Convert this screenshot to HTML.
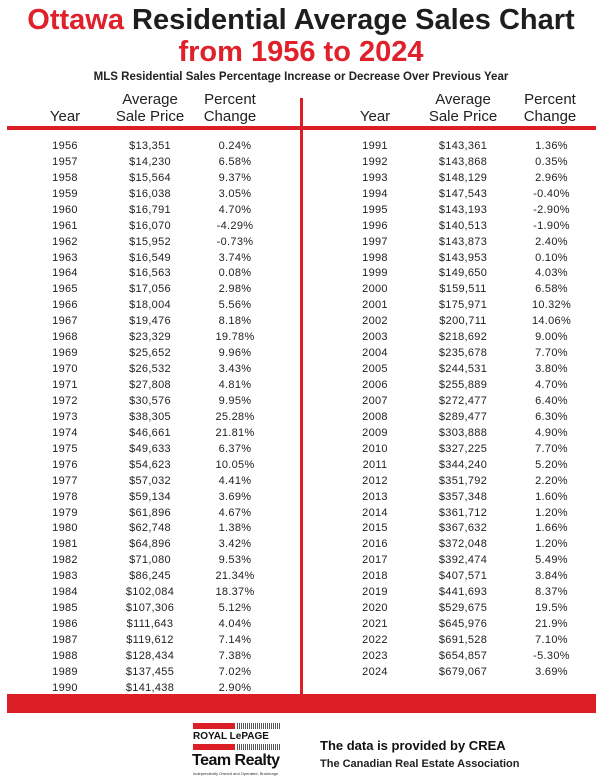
<!DOCTYPE html>
<html><head><meta charset="utf-8"><style>
*{margin:0;padding:0;box-sizing:border-box}
body{width:602px;height:782px;background:#fff;position:relative;overflow:hidden;font-family:"Liberation Sans","DejaVu Sans",sans-serif;color:#222}
.t{position:absolute;left:0;width:602px;text-align:center;font-weight:bold;white-space:nowrap}
.h{position:absolute;font-size:15px;text-align:center;line-height:17px;color:#222;white-space:nowrap}
table{position:absolute;border-collapse:collapse;font-size:11px;letter-spacing:0.3px}
td{height:15.94px;padding:0;text-align:center;white-space:nowrap}
</style></head><body>
<div class="t" style="top:4px;font-size:29px;line-height:32px;color:#1e1e1e"><span style="color:#e0202a">Ottawa</span> Residential Average Sales Chart</div>
<div class="t" style="top:36px;font-size:29px;line-height:32px;color:#e0202a">from 1956 to 2024</div>
<div class="t" style="top:70px;font-size:11.5px;line-height:14px;color:#222">MLS Residential Sales Percentage Increase or Decrease Over Previous Year</div>

<div class="h" style="left:35px;top:108px;width:60px">Year</div>
<div class="h" style="left:105px;top:91px;width:90px">Average<br>Sale Price</div>
<div class="h" style="left:190px;top:91px;width:80px">Percent<br>Change</div>
<div class="h" style="left:345px;top:108px;width:60px">Year</div>
<div class="h" style="left:418px;top:91px;width:90px">Average<br>Sale Price</div>
<div class="h" style="left:510px;top:91px;width:80px">Percent<br>Change</div>

<div style="position:absolute;left:7px;top:126px;width:589px;height:3.5px;background:#dc1f26"></div>
<div style="position:absolute;left:299.5px;top:98px;width:3px;height:600px;background:#dc1f26"></div>
<div style="position:absolute;left:7px;top:694px;width:589px;height:19px;background:#dc1f26"></div>

<table style="left:25px;top:138px;width:250px">
<colgroup><col style="width:80px"><col style="width:90px"><col style="width:80px"></colgroup>
<tr><td>1956</td><td>$13,351</td><td>0.24%</td></tr>
<tr><td>1957</td><td>$14,230</td><td>6.58%</td></tr>
<tr><td>1958</td><td>$15,564</td><td>9.37%</td></tr>
<tr><td>1959</td><td>$16,038</td><td>3.05%</td></tr>
<tr><td>1960</td><td>$16,791</td><td>4.70%</td></tr>
<tr><td>1961</td><td>$16,070</td><td>-4.29%</td></tr>
<tr><td>1962</td><td>$15,952</td><td>-0.73%</td></tr>
<tr><td>1963</td><td>$16,549</td><td>3.74%</td></tr>
<tr><td>1964</td><td>$16,563</td><td>0.08%</td></tr>
<tr><td>1965</td><td>$17,056</td><td>2.98%</td></tr>
<tr><td>1966</td><td>$18,004</td><td>5.56%</td></tr>
<tr><td>1967</td><td>$19,476</td><td>8.18%</td></tr>
<tr><td>1968</td><td>$23,329</td><td>19.78%</td></tr>
<tr><td>1969</td><td>$25,652</td><td>9.96%</td></tr>
<tr><td>1970</td><td>$26,532</td><td>3.43%</td></tr>
<tr><td>1971</td><td>$27,808</td><td>4.81%</td></tr>
<tr><td>1972</td><td>$30,576</td><td>9.95%</td></tr>
<tr><td>1973</td><td>$38,305</td><td>25.28%</td></tr>
<tr><td>1974</td><td>$46,661</td><td>21.81%</td></tr>
<tr><td>1975</td><td>$49,633</td><td>6.37%</td></tr>
<tr><td>1976</td><td>$54,623</td><td>10.05%</td></tr>
<tr><td>1977</td><td>$57,032</td><td>4.41%</td></tr>
<tr><td>1978</td><td>$59,134</td><td>3.69%</td></tr>
<tr><td>1979</td><td>$61,896</td><td>4.67%</td></tr>
<tr><td>1980</td><td>$62,748</td><td>1.38%</td></tr>
<tr><td>1981</td><td>$64,896</td><td>3.42%</td></tr>
<tr><td>1982</td><td>$71,080</td><td>9.53%</td></tr>
<tr><td>1983</td><td>$86,245</td><td>21.34%</td></tr>
<tr><td>1984</td><td>$102,084</td><td>18.37%</td></tr>
<tr><td>1985</td><td>$107,306</td><td>5.12%</td></tr>
<tr><td>1986</td><td>$111,643</td><td>4.04%</td></tr>
<tr><td>1987</td><td>$119,612</td><td>7.14%</td></tr>
<tr><td>1988</td><td>$128,434</td><td>7.38%</td></tr>
<tr><td>1989</td><td>$137,455</td><td>7.02%</td></tr>
<tr><td>1990</td><td>$141,438</td><td>2.90%</td></tr>
</table>

<table style="left:335px;top:138px;width:257px">
<colgroup><col style="width:80px"><col style="width:96px"><col style="width:81px"></colgroup>
<tr><td>1991</td><td>$143,361</td><td>1.36%</td></tr>
<tr><td>1992</td><td>$143,868</td><td>0.35%</td></tr>
<tr><td>1993</td><td>$148,129</td><td>2.96%</td></tr>
<tr><td>1994</td><td>$147,543</td><td>-0.40%</td></tr>
<tr><td>1995</td><td>$143,193</td><td>-2.90%</td></tr>
<tr><td>1996</td><td>$140,513</td><td>-1.90%</td></tr>
<tr><td>1997</td><td>$143,873</td><td>2.40%</td></tr>
<tr><td>1998</td><td>$143,953</td><td>0.10%</td></tr>
<tr><td>1999</td><td>$149,650</td><td>4.03%</td></tr>
<tr><td>2000</td><td>$159,511</td><td>6.58%</td></tr>
<tr><td>2001</td><td>$175,971</td><td>10.32%</td></tr>
<tr><td>2002</td><td>$200,711</td><td>14.06%</td></tr>
<tr><td>2003</td><td>$218,692</td><td>9.00%</td></tr>
<tr><td>2004</td><td>$235,678</td><td>7.70%</td></tr>
<tr><td>2005</td><td>$244,531</td><td>3.80%</td></tr>
<tr><td>2006</td><td>$255,889</td><td>4.70%</td></tr>
<tr><td>2007</td><td>$272,477</td><td>6.40%</td></tr>
<tr><td>2008</td><td>$289,477</td><td>6.30%</td></tr>
<tr><td>2009</td><td>$303,888</td><td>4.90%</td></tr>
<tr><td>2010</td><td>$327,225</td><td>7.70%</td></tr>
<tr><td>2011</td><td>$344,240</td><td>5.20%</td></tr>
<tr><td>2012</td><td>$351,792</td><td>2.20%</td></tr>
<tr><td>2013</td><td>$357,348</td><td>1.60%</td></tr>
<tr><td>2014</td><td>$361,712</td><td>1.20%</td></tr>
<tr><td>2015</td><td>$367,632</td><td>1.66%</td></tr>
<tr><td>2016</td><td>$372,048</td><td>1.20%</td></tr>
<tr><td>2017</td><td>$392,474</td><td>5.49%</td></tr>
<tr><td>2018</td><td>$407,571</td><td>3.84%</td></tr>
<tr><td>2019</td><td>$441,693</td><td>8.37%</td></tr>
<tr><td>2020</td><td>$529,675</td><td>19.5%</td></tr>
<tr><td>2021</td><td>$645,976</td><td>21.9%</td></tr>
<tr><td>2022</td><td>$691,528</td><td>7.10%</td></tr>
<tr><td>2023</td><td>$654,857</td><td>-5.30%</td></tr>
<tr><td>2024</td><td>$679,067</td><td>3.69%</td></tr>
</table>

<!-- logo -->
<div style="position:absolute;left:193px;top:723px;width:42px;height:6px;background:#dc1f26"></div>
<div style="position:absolute;left:237px;top:723px;width:43px;height:6px;background:repeating-linear-gradient(90deg,#555 0 1px,#fff 1px 2px)"></div>
<div style="position:absolute;left:193px;top:731px;font-size:10px;font-weight:bold;line-height:11px;color:#111">ROYAL LePAGE</div>
<div style="position:absolute;left:193px;top:744px;width:42px;height:6px;background:#dc1f26"></div>
<div style="position:absolute;left:237px;top:744px;width:43px;height:6px;background:repeating-linear-gradient(90deg,#555 0 1px,#fff 1px 2px)"></div>
<div style="position:absolute;left:192px;top:752px;font-size:16px;font-weight:bold;line-height:18px;color:#111;letter-spacing:-0.5px">Team Realty</div>
<div style="position:absolute;left:193px;top:771px;font-size:4px;line-height:5px;color:#333">Independently Owned and Operated, Brokerage</div>

<div style="position:absolute;left:320px;top:738px;font-size:13px;font-weight:bold;line-height:16px;color:#111">The data is provided by CREA</div>
<div style="position:absolute;left:320px;top:757px;font-size:11px;font-weight:bold;line-height:14px;color:#222">The Canadian Real Estate Association</div>
</body></html>
